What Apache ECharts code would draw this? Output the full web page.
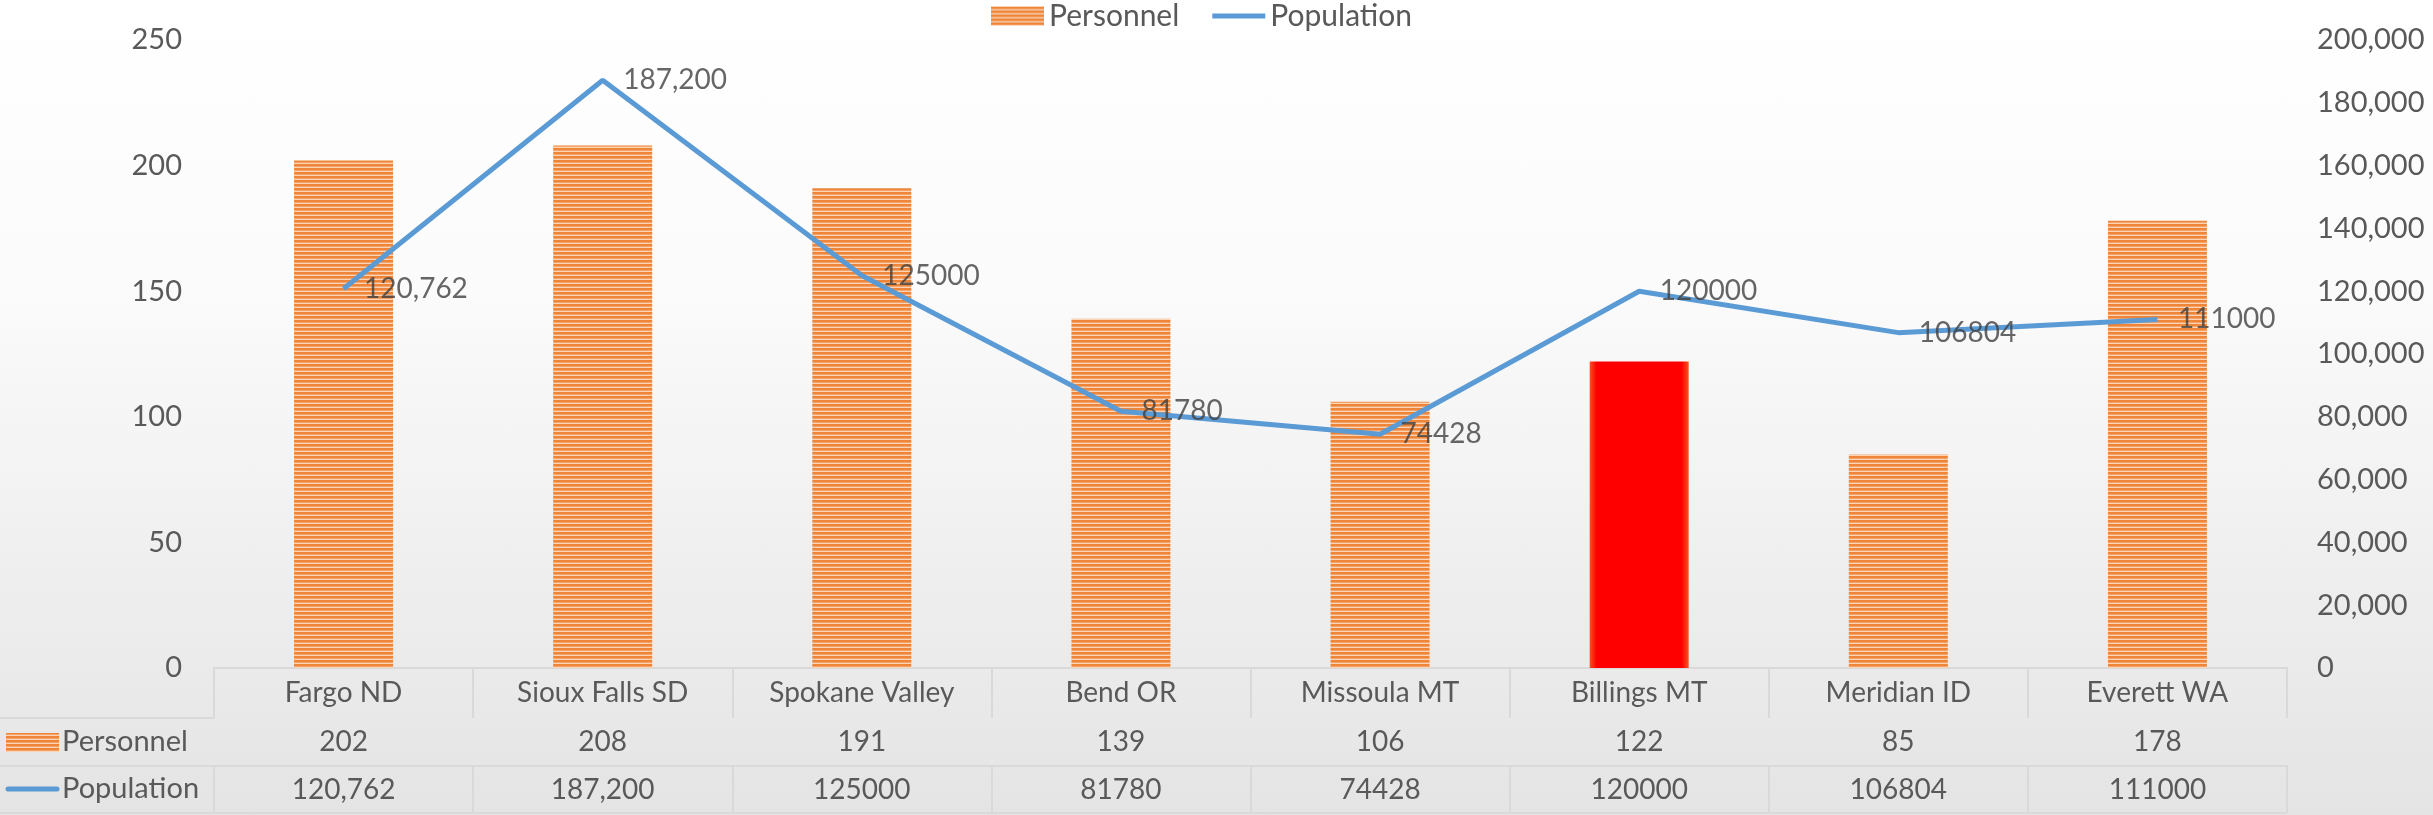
<!DOCTYPE html>
<html>
<head>
<meta charset="utf-8">
<script src="https://cdn.jsdelivr.net/npm/echarts@6/dist/echarts.min.js"></script>
<style>
  html, body { margin: 0; padding: 0; }
  body { background: linear-gradient(#ffffff 0%, #fbfbfb 35%, #e4e4e4 100%); }
  #chart { width: 2433px; height: 815px; }
</style>
</head>
<body>
<div id="chart"></div>
<script>
// data
var cities = ['Fargo ND', 'Sioux Falls SD', 'Spokane Valley', 'Bend OR', 'Missoula MT', 'Billings MT', 'Meridian ID', 'Everett WA']
var personnel = [202, 208, 191, 139, 106, 122, 85, 178]
var population = [120762, 187200, 125000, 81780, 74428, 120000, 106804, 111000]
var populationText = ['120,762', '187,200', '125000', '81780', '74428', '120000', '106804', '111000']
var highlightCity = 'Billings MT'

var FONT = 'Lato'
var GREY = '#595959'
var BORDER = '#d9d9d9'
var BLUE = '#5b9bd5'

// striped orange fill like the excel pattern
function stripes() {
    var c = document.createElement('canvas')
    c.width = 8
    c.height = 4
    var g = c.getContext('2d')
    g.fillStyle = '#fbd4b6'
    g.fillRect(0, 0, 8, 4)
    g.fillStyle = '#ee8538'
    g.fillRect(0, 0, 8, 2)
    g.fillStyle = '#f4a46a'
    g.fillRect(0, 2, 8, 1)
    return c
}
var pattern = { image: stripes(), repeat: 'repeat' }

var barData = personnel.map(function(v, i) {
    if (cities[i] === highlightCity) {
        return {
            value: v,
            itemStyle: {
                color: new echarts.graphic.LinearGradient(0, 0, 1, 0, [
                    { offset: 0, color: '#f5531f' },
                    { offset: 0.07, color: '#ff0000' },
                    { offset: 0.93, color: '#ff0000' },
                    { offset: 1, color: '#f5531f' }
                ])
            }
        }
    }
    return v
})

function tableAxis(data, offset, tickLen) {
    return {
        type: 'category',
        position: 'bottom',
        data: data,
        offset: offset,
        gridIndex: 0,
        axisLine: { show: true, lineStyle: { color: BORDER, width: 2 } },
        axisTick: { show: true, length: tickLen, interval: 0, lineStyle: { color: BORDER, width: 2 } },
        axisLabel: {
            interval: 0,
            margin: tickLen / 2,
            verticalAlign: 'middle',
            fontFamily: FONT,
            fontSize: 28,
            color: GREY
        },
        splitLine: { show: false }
    }
}

var chart = echarts.init(document.getElementById('chart'))
var option = {
    backgroundColor: 'transparent',
    textStyle: { fontFamily: FONT },
    legend: {
        top: 1,
        left: 991,
        padding: 0,
        itemWidth: 53,
        itemHeight: 19,
        itemGap: 33,
        symbolKeepAspect: true,
        textStyle: { fontFamily: FONT, fontSize: 30, color: GREY },
        data: [
            { name: 'Personnel', icon: 'rect' },
            { name: 'Population', icon: 'path://M0,0 L53,0 L53,5 L0,5 Z' }
        ]
    },
    grid: { left: 214, right: 146, top: 40, bottom: 147, containLabel: false },
    xAxis: [
        tableAxis(cities, 0, 50),
        tableAxis(personnel.map(String), 50, 48),
        tableAxis(populationText, 98, 47)
    ],
    yAxis: [
        {
            type: 'value',
            min: 0,
            max: 250,
            interval: 50,
            axisLine: { show: false },
            axisTick: { show: false },
            splitLine: { show: false },
            axisLabel: { margin: 32, fontFamily: FONT, fontSize: 29, color: GREY }
        },
        {
            type: 'value',
            min: 0,
            max: 200000,
            interval: 20000,
            position: 'right',
            axisLine: { show: false },
            axisTick: { show: false },
            splitLine: { show: false },
            axisLabel: {
                margin: 30,
                fontFamily: FONT,
                fontSize: 29,
                color: GREY,
                formatter: function(v) { return v.toLocaleString('en-US') }
            }
        }
    ],
    series: [
        {
            name: 'Personnel',
            type: 'bar',
            barWidth: 99,
            itemStyle: { color: pattern },
            data: barData
        },
        {
            name: 'Population',
            type: 'line',
            yAxisIndex: 1,
            symbol: 'none',
            z: 5,
            lineStyle: { color: BLUE, width: 5 },
            itemStyle: { color: BLUE },
            data: population
        },
        {
            // data labels of the population line
            name: 'popLabels',
            type: 'scatter',
            yAxisIndex: 1,
            symbolSize: 1,
            itemStyle: { color: 'transparent' },
            z: 6,
            silent: true,
            label: {
                show: true,
                position: 'right',
                distance: 20,
                fontFamily: FONT,
                fontSize: 28,
                color: '#404040',
                formatter: function(p) { return populationText[p.dataIndex] }
            },
            data: population
        }
    ],
    graphic: [
        // left part of the data table (row headers)
        { type: 'line', shape: { x1: 0, y1: 718, x2: 214, y2: 718 }, style: { stroke: BORDER, lineWidth: 2 } },
        { type: 'line', shape: { x1: 0, y1: 766, x2: 214, y2: 766 }, style: { stroke: BORDER, lineWidth: 2 } },
        { type: 'line', shape: { x1: 0, y1: 813, x2: 2287, y2: 813 }, style: { stroke: BORDER, lineWidth: 2 } },
        { type: 'rect', shape: { x: 6, y: 733, width: 53, height: 19 }, style: { fill: pattern } },
        { type: 'text', x: 62, y: 742, style: { text: 'Personnel', font: '29px Lato', fill: GREY, textVerticalAlign: 'middle' } },
        { type: 'line', shape: { x1: 8, y1: 789, x2: 57, y2: 789 }, style: { stroke: BLUE, lineWidth: 5, lineCap: 'round' } },
        { type: 'text', x: 62, y: 789, style: { text: 'Population', font: '29px Lato', fill: GREY, textVerticalAlign: 'middle' } }
    ]
}
chart.setOption(option)

window.addEventListener('resize', function() {
    chart.resize()
})
</script>
</body>
</html>
